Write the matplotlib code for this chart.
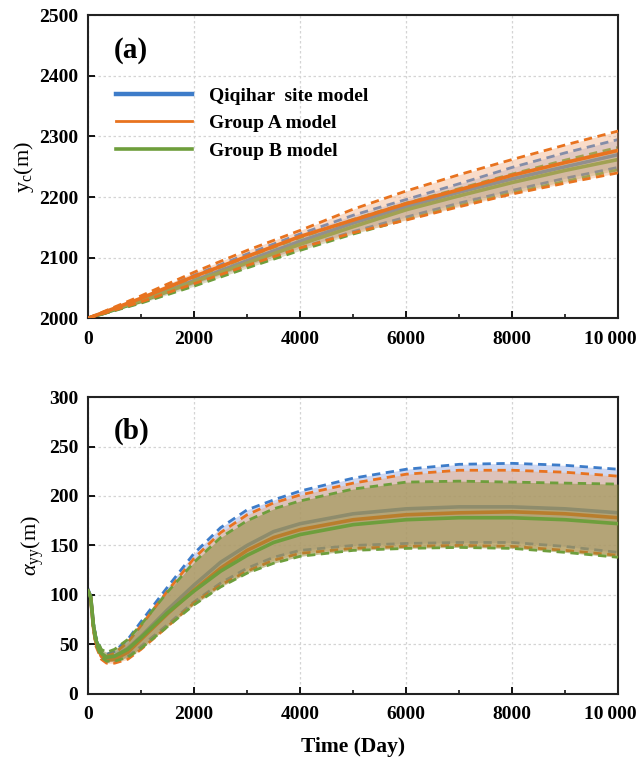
import matplotlib
matplotlib.use("Agg")
import matplotlib.pyplot as plt
import matplotlib.transforms as mtransforms
from matplotlib.lines import Line2D
from matplotlib.ticker import MultipleLocator, FuncFormatter

plt.rcParams['font.family'] = ['Liberation Serif', 'DejaVu Serif']
plt.rcParams['mathtext.fontset'] = 'custom'
plt.rcParams['mathtext.rm'] = 'Liberation Serif'
plt.rcParams['mathtext.it'] = 'Liberation Serif:italic'
plt.rcParams['mathtext.bf'] = 'Liberation Serif:bold'

# ---------------- Panel (a) data: y_c (m) ----------------
t_a = [0, 1000, 2000, 3000, 4000, 5000, 6000, 7000, 8000, 9000, 10000]
qiq_a_mid = [2000, 2029, 2062, 2095, 2127, 2157, 2184, 2208, 2230, 2250, 2270]
qiq_a_up  = [2000, 2034, 2071, 2106, 2139, 2170, 2196, 2222, 2249, 2273, 2295]
qiq_a_lo  = [2000, 2026, 2056, 2087, 2116, 2143, 2167, 2190, 2211, 2231, 2249]
grA_a_mid = [2000, 2033, 2069, 2102, 2135, 2162, 2189, 2212, 2236, 2257, 2277]
grA_a_up  = [2000, 2037, 2076, 2112, 2145, 2180, 2210, 2237, 2262, 2286, 2309]
grA_a_lo  = [2000, 2027, 2057, 2087, 2116, 2141, 2162, 2184, 2205, 2223, 2240]
grB_a_mid = [2000, 2028, 2060, 2091, 2122, 2151, 2179, 2202, 2224, 2244, 2262]
grB_a_up  = [2000, 2032, 2067, 2101, 2133, 2163, 2190, 2214, 2238, 2261, 2282]
grB_a_lo  = [2000, 2025, 2053, 2083, 2112, 2139, 2163, 2186, 2207, 2226, 2245]

# ---------------- Panel (b) data: alpha_yy (m) ----------------
t_b = [0, 50, 100, 150, 250, 350, 500, 750, 1000, 1500, 2000, 2500, 3000,
       3500, 4000, 5000, 6000, 7000, 8000, 9000, 10000]
qiq_b_mid = [105, 98, 70, 54, 40, 36, 38, 46, 58, 85, 110, 133, 150, 164, 172, 182, 187, 189, 189, 187, 183]
qiq_b_up  = [105, 99, 72, 57, 44, 40, 43, 55, 73, 108, 142, 168, 186, 196, 205, 218, 227, 232, 233, 231, 227]
qiq_b_lo  = [105, 97, 67, 50, 37, 33, 33, 38, 48, 70, 93, 112, 127, 138, 145, 150, 152, 153, 153, 149, 143]
grA_b_mid = [104, 97, 68, 52, 38, 34, 35, 42, 55, 81, 105, 127, 145, 158, 166, 176, 181, 183, 184, 182, 178]
grA_b_up  = [104, 98, 70, 55, 42, 38, 41, 52, 69, 104, 137, 163, 181, 193, 201, 213, 222, 226, 226, 224, 220]
grA_b_lo  = [104, 96, 65, 48, 35, 31, 31, 35, 45, 68, 92, 110, 124, 135, 142, 147, 149, 150, 149, 145, 140]
grB_b_mid = [104, 98, 70, 54, 41, 37, 38, 45, 57, 82, 104, 124, 140, 153, 161, 171, 176, 178, 178, 176, 172]
grB_b_up  = [104, 99, 72, 57, 45, 42, 45, 55, 70, 103, 133, 158, 175, 187, 195, 207, 214, 215, 214, 213, 212]
grB_b_lo  = [104, 96, 66, 50, 37, 33, 33, 37, 46, 68, 90, 108, 122, 132, 139, 145, 147, 148, 147, 143, 138]

labels = ["Qiqihar  site model", "Group A model", "Group B model"]
c_blue, c_orange, c_green = "#3d7cc9", "#e8731f", "#6e9e3c"
f_blue, f_orange, f_green = "#a9b9e6", "#f0a878", "#8f8a3a"

fig = plt.figure(figsize=(6.38, 7.65), dpi=100)
ax1 = fig.add_axes([0.138, 0.584, 0.831, 0.396])
ax2 = fig.add_axes([0.138, 0.093, 0.831, 0.388])

def band(ax, t, mid, up, lo, lc, fc, falpha, mid_lw=2.6, zbase=1):
    ax.fill_between(t, lo, up, color=fc, alpha=falpha, lw=0, zorder=zbase)
    ax.plot(t, up, ls=(0, (3, 2)), color=lc, lw=2.0, zorder=zbase + 0.1)
    ax.plot(t, lo, ls=(0, (3, 2)), color=lc, lw=2.0, zorder=zbase + 0.1)
    ax.plot(t, mid, ls='-', color=lc, lw=mid_lw, zorder=zbase + 0.2)

# Panel (a): blue, green, then orange on top
band(ax1, t_a, qiq_a_mid, qiq_a_up, qiq_a_lo, c_blue, f_blue, 0.45, zbase=1)
band(ax1, t_a, grB_a_mid, grB_a_up, grB_a_lo, c_green, f_green, 0.30, zbase=2)
band(ax1, t_a, grA_a_mid, grA_a_up, grA_a_lo, c_orange, f_orange, 0.40, zbase=3)

# Panel (b): blue, orange, then green on top
band(ax2, t_b, qiq_b_mid, qiq_b_up, qiq_b_lo, c_blue, f_blue, 0.55, zbase=1)
band(ax2, t_b, grA_b_mid, grA_b_up, grA_b_lo, c_orange, f_orange, 0.45, zbase=2)
band(ax2, t_b, grB_b_mid, grB_b_up, grB_b_lo, c_green, f_green, 0.52, zbase=3)

def fmt_x(v, pos):
    v = int(round(v))
    if v == 10000:
        return "10\u2009000"
    return str(v)

ax1.set_ylim(2000, 2500)
ax1.yaxis.set_major_locator(MultipleLocator(100))
ax2.set_ylim(0, 300)
ax2.yaxis.set_major_locator(MultipleLocator(50))

shift = mtransforms.ScaledTranslation(-8 / 100, 0, fig.dpi_scale_trans)
for ax in (ax1, ax2):
    ax.set_xlim(0, 10000)
    ax.xaxis.set_major_locator(MultipleLocator(2000))
    ax.xaxis.set_minor_locator(MultipleLocator(1000))
    ax.xaxis.set_major_formatter(FuncFormatter(fmt_x))
    ax.tick_params(axis='both', which='major', direction='in', length=5, width=1.3,
                   labelsize=14)
    ax.tick_params(axis='x', which='major', pad=9)
    ax.tick_params(axis='y', which='major', pad=7)
    ax.tick_params(axis='x', which='minor', direction='in', length=3, width=1.1)
    ax.tick_params(axis='y', which='minor', left=False)
    ax.grid(True, which='major', ls=(0, (2, 2)), color='#d4d4d4', lw=0.9, zorder=0)
    ax.set_axisbelow(True)
    for s in ax.spines.values():
        s.set_linewidth(1.5)
        s.set_color('#222222')
    fig.canvas.draw()
    for lab in ax.get_xticklabels() + ax.get_yticklabels():
        lab.set_fontweight('bold')
    xt = ax.get_xticklabels()
    for lab in xt:
        if lab.get_text().startswith("10"):
            lab.set_transform(lab.get_transform() + shift)

ax1.set_ylabel("y$_\\mathregular{c}$(m)", fontsize=16, labelpad=2)
ax2.set_ylabel("$\\alpha_{\\mathregular{yy}}$(m)", fontsize=16, labelpad=2)
ax2.set_xlabel("Time (Day)", fontsize=15.5, fontweight='bold', labelpad=10)

ax1.text(0.048, 0.93, "(a)", transform=ax1.transAxes, fontsize=21, fontweight='bold',
         va='top', ha='left')
ax2.text(0.048, 0.93, "(b)", transform=ax2.transAxes, fontsize=21, fontweight='bold',
         va='top', ha='left')

handles = [Line2D([], [], color=c_blue, lw=3.2),
           Line2D([], [], color=c_orange, lw=2.0),
           Line2D([], [], color=c_green, lw=2.6)]
leg = ax1.legend(handles, labels, loc='upper left', bbox_to_anchor=(0.02, 0.82),
                 frameon=False, handlelength=3.9, handletextpad=0.9,
                 labelspacing=0.5, prop={'family': 'Liberation Serif', 'weight': 'bold', 'size': 14})

fig.savefig("out.png", dpi=100, facecolor='white')
